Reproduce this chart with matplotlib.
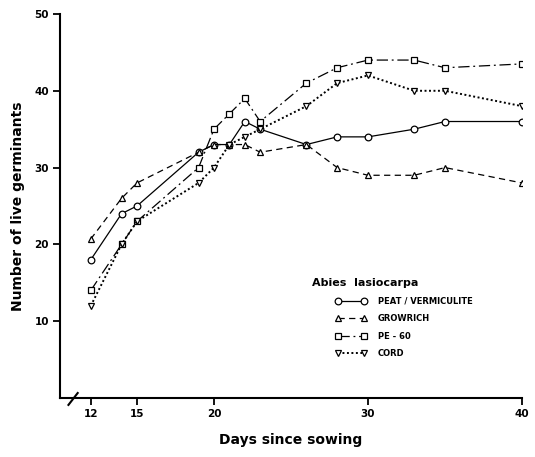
import matplotlib
matplotlib.use("Agg")
import matplotlib.pyplot as plt

# ---- data ----
days = [12, 14, 15, 19, 20, 21, 22, 23, 26, 28, 30, 33, 35, 40]
peat = [18, 24, 25, 32, 33, 33, 36, 35, 33, 34, 34, 35, 36, 36]
growrich = [20.7, 26, 28, 32, 33, 33, 33, 32, 33, 30, 29, 29, 30, 28]
pe60 = [14, 20, 23, 30, 35, 37, 39, 36, 41, 43, 44, 44, 43, 43.5]
cord = [12, 20, 23, 28, 30, 33, 34, 35, 38, 41, 42, 40, 40, 38]

series_names = ["PEAT / VERMICULITE", "GROWRICH", "PE - 60", "CORD"]
xticks = [12, 15, 20, 30, 40]
yticks = [10, 20, 30, 40, 50]
legend_title = "Abies  lasiocarpa"
xlabel = "Days since sowing"
ylabel = "Number of live germinants"

plt.rcParams['font.family'] = ['DejaVu Sans']

fig = plt.figure(figsize=(5.35, 4.57), dpi=100)
ax = fig.add_axes([0.1121, 0.1291, 0.8636, 0.8403])

styles = [
    dict(marker='o', ls='-', ms=4.8),
    dict(marker='^', ls=(0, (5, 3.5)), ms=4.0),
    dict(marker='s', ls=(0, (9, 3, 1.5, 3)), ms=4.0),
    dict(marker='v', ls=(0, (1, 1.3)), ms=4.0),
]
data = [peat, growrich, pe60, cord]
handles = []
for vals, st, name in zip(data, styles, series_names):
    lw = 1.4 if st['marker'] == 'v' else 0.9
    ln, = ax.plot(days, vals, color='black', lw=lw, linestyle=st['ls'],
                  marker=st['marker'], ms=st['ms'], mfc='white', mec='black',
                  mew=0.9, label=name)
    handles.append(ln)

ax.set_xlim(10, 40)
ax.set_ylim(0, 50)
ax.set_xticks(xticks)
ax.set_xticklabels([str(t) for t in xticks], fontsize=7.5, fontweight='bold')
ax.set_yticks(yticks)
ax.set_yticklabels([str(t) for t in yticks], fontsize=7.5, fontweight='bold')
ax.tick_params(axis='both', direction='out', length=5, width=1.3, pad=3)
for s in ['top', 'right']:
    ax.spines[s].set_visible(False)
for s in ['left', 'bottom']:
    ax.spines[s].set_linewidth(1.5)

ax.set_xlabel(xlabel, fontsize=10, fontweight='bold', labelpad=10)
ax.set_ylabel(ylabel, fontsize=10, fontweight='bold', labelpad=7)

# axis break mark
ax.plot([10.55, 11.15], [-0.9, 0.65], color='black', lw=1.5, clip_on=False)

leg = fig.legend(handles=handles, loc='upper left',
                 bbox_to_anchor=(335 / 535, 1 - 297 / 457),
                 frameon=False, numpoints=2, handlelength=3.8,
                 handletextpad=1.3, labelspacing=1.0, borderpad=0,
                 borderaxespad=0, prop={'size': 6, 'weight': 'bold'})
fig.text(312 / 535, 1 - 283 / 457, legend_title, fontsize=8, fontweight='bold',
         ha='left', va='center')

fig.savefig("out.png", dpi=100)
